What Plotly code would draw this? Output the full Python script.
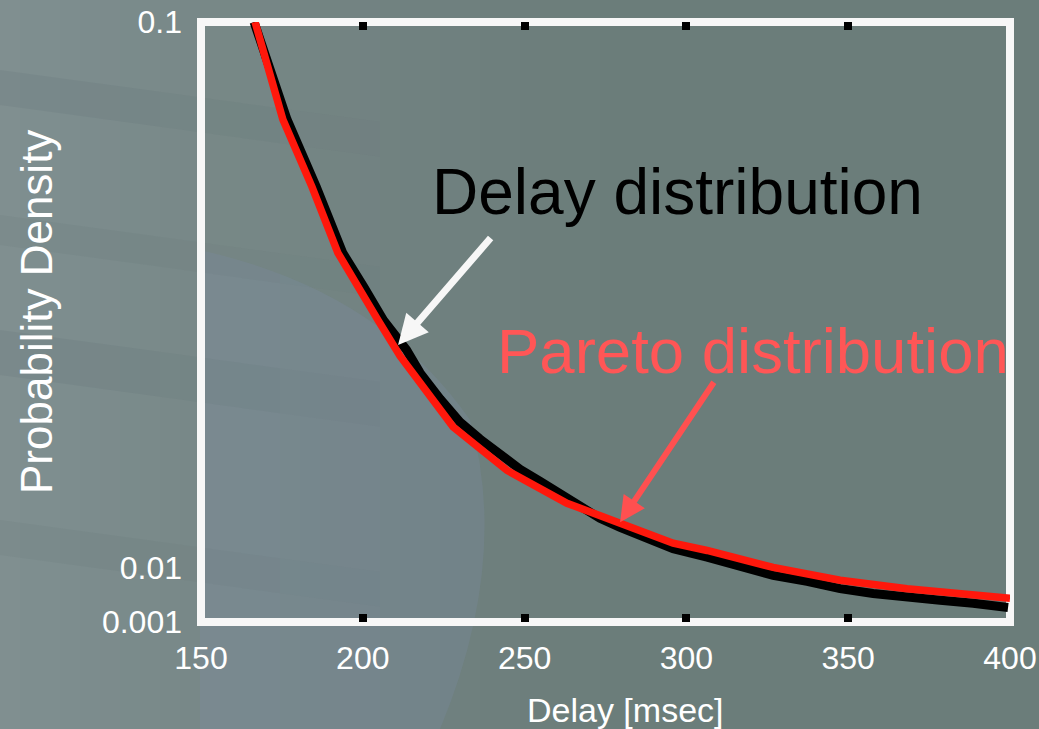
import plotly.graph_objects as go

# ---------------- data ----------------
delay_ms = [166.4, 176.6, 185.6, 193.8, 200.3, 206.4, 213.5, 217.7, 223.9, 230.0,
            236.2, 242.4, 248.6, 254.8, 260.9, 267.1, 273.3, 279.5, 288.8, 295.9,
            306.4, 316.6, 326.8, 337.3, 347.5, 357.7, 368.2, 378.4, 388.6, 399.4]
delay_density = [0.1000, 0.0839, 0.0728, 0.0619, 0.0563, 0.0508, 0.0459, 0.0421, 0.0378, 0.0340,
                 0.0312, 0.0286, 0.0262, 0.0242, 0.0222, 0.0201, 0.0181, 0.0166, 0.0146, 0.0131,
                 0.0117, 0.0102, 0.0087, 0.0077, 0.0065, 0.0057, 0.0050, 0.0046, 0.0041, 0.0034]

pareto_ms = [166.7, 175.3, 184.3, 192.3, 204.7, 211.5, 227.9, 244.6, 263.1, 279.5,
             295.9, 306.4, 326.8, 347.5, 368.2, 400.0]
pareto_density = [0.1000, 0.0839, 0.0728, 0.0619, 0.0508, 0.0449, 0.0332, 0.0260, 0.0206, 0.0173,
                  0.0140, 0.0128, 0.0100, 0.0079, 0.0065, 0.0049]

x_ticks = [150, 200, 250, 300, 350, 400]
x_marks = [200, 250, 300, 350]
y_ticks = [0.001, 0.01, 0.1]
y_tick_labels = ["0.001", "0.01", "0.1"]

FONT = "Liberation Sans, Arial, sans-serif"
W, H = 1039, 729
L, R, T, B = 201, 29, 22, 107
PW, PH = W - L - R, H - T - B


def px(x):
    return (x - L) / PW


def py(y):
    return (H - B - y) / PH


fig = go.Figure()

fig.add_trace(go.Scatter(x=delay_ms, y=delay_density, mode="lines",
                         line=dict(color="black", width=9), name="Delay distribution",
                         showlegend=False, xaxis="x2"))
fig.add_trace(go.Scatter(x=pareto_ms, y=pareto_density, mode="lines",
                         line=dict(color="#ff180c", width=7.5), name="Pareto distribution",
                         showlegend=False, xaxis="x2"))

# ---------------- background (photo-like texture approximation) ----------------
shapes = []
# soft horizontal gradient: lighter blue-grey on the left
step = 20
for x0 in range(0, 620, step):
    op = max(0.0, 0.5 * (1 - x0 / 620)) ** 1.2 * 0.9
    shapes.append(dict(type="rect", xref="paper", yref="paper", x0=px(x0), x1=px(x0 + step),
                       y0=py(H), y1=py(0), fillcolor="#a0abb3", opacity=op,
                       line=dict(width=0), layer="below"))
# bluish haze inside the left part of the plot
shapes.append(dict(type="path", xref="paper", yref="paper",
                   path=f"M{px(200)},{py(250)} Q{px(380)},{py(290)} {px(470)},{py(420)} "
                        f"Q{px(510)},{py(560)} {px(440)},{py(729)} L{px(200)},{py(729)} Z",
                   fillcolor="#8393b4", opacity=0.2, line=dict(width=0), layer="below"))
# faint darker diagonal streaks on the left, tapering to the right
for (ya, yb, op) in [(70, 105, 0.13), (215, 245, 0.10), (330, 375, 0.13), (520, 555, 0.10)]:
    for k, (xa, xb) in enumerate([(0, 160), (160, 280), (280, 380)]):
        da, db = (xa / 330) * 45, (xb / 330) * 45
        shapes.append(dict(type="path", xref="paper", yref="paper",
                           path=f"M{px(xa)},{py(ya + da)} L{px(xa)},{py(yb + da)} "
                                f"L{px(xb)},{py(yb + db)} L{px(xb)},{py(ya + db)} Z",
                           fillcolor="#56686a", opacity=op * (1 - 0.33 * k),
                           line=dict(width=0), layer="below"))

# white frame of the plot area
shapes.append(dict(type="rect", xref="paper", yref="paper", x0=0, x1=1, y0=0, y1=1,
                   line=dict(color="#f7f7f7", width=8), fillcolor="rgba(0,0,0,0)", layer="below"))

annotations = [
    dict(text="Probability Density", textangle=-90, xref="paper", yref="paper",
         x=px(37), y=py(312), xanchor="center", yanchor="middle", showarrow=False,
         font=dict(family=FONT, size=44, color="white")),
    dict(text="Delay [msec]", xref="paper", yref="paper",
         x=px(625), y=py(710), xanchor="center", yanchor="middle", showarrow=False,
         font=dict(family=FONT, size=34, color="white")),
    dict(text="Delay distribution", xref="paper", yref="paper",
         x=px(430), y=py(192), xanchor="left", yanchor="middle", showarrow=False,
         font=dict(family=FONT, size=64, color="black")),
    dict(text="Pareto distribution", xref="paper", yref="paper",
         x=px(495), y=py(351), xanchor="left", yanchor="middle", showarrow=False,
         font=dict(family=FONT, size=63.5, color="#ff5656")),
    # arrows
    dict(text="", x=210.9, y=0.0467, xref="x", yref="y", ax=239.9, ay=0.0646, axref="x", ayref="y",
         showarrow=True, arrowhead=2, arrowsize=0.85, arrowwidth=7, arrowcolor="#f7f7f7", standoff=0),
    dict(text="", x=279.5, y=0.01745, xref="x", yref="y", ax=308.8, ay=0.0408, axref="x", ayref="y",
         showarrow=True, arrowhead=2, arrowsize=0.85, arrowwidth=6, arrowcolor="#ff5050", standoff=0),
]

fig.update_layout(
    width=W, height=H,
    margin=dict(l=L, r=R, t=T, b=B, autoexpand=False),
    paper_bgcolor="#6b7d7a",
    plot_bgcolor="rgba(0,0,0,0)",
    showlegend=False,
    shapes=shapes,
    annotations=annotations,
    xaxis=dict(range=[150, 400], tickmode="array", tickvals=x_ticks, ticks="",
               showgrid=False, zeroline=False, showline=False, automargin=False,
               tickfont=dict(family=FONT, size=32, color="white"), ticklabelstandoff=14),
    xaxis2=dict(range=[150, 400], overlaying="x", side="bottom", anchor="y",
                tickmode="array", tickvals=x_marks, ticks="inside", ticklen=8, tickwidth=8,
                tickcolor="black", mirror="ticks", showticklabels=False, automargin=False,
                showgrid=False, zeroline=False, showline=False),
    yaxis=dict(range=[0.001, 0.1], tickmode="array", tickvals=y_ticks, ticktext=y_tick_labels,
               ticks="", showgrid=False, zeroline=False, showline=False, automargin=False,
               tickfont=dict(family=FONT, size=32, color="white"), ticklabelstandoff=18),
)

fig.write_html("out.html")
